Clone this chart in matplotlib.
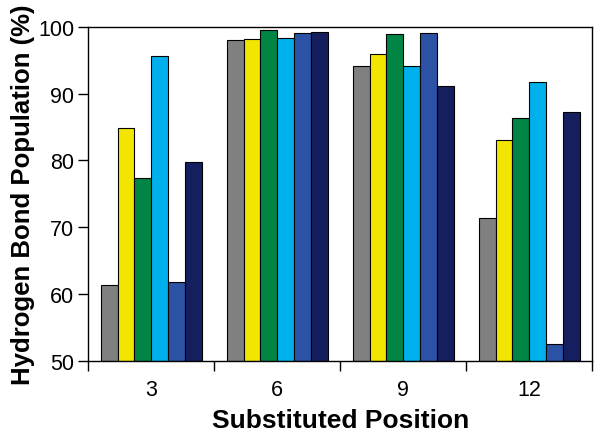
import matplotlib
matplotlib.use("Agg")
import matplotlib.pyplot as plt
import numpy as np

categories = ["3", "6", "9", "12"]
series_gray = [61.3, 98.1, 94.1, 71.4]
series_yellow = [84.8, 98.2, 95.9, 83.1]
series_green = [77.4, 99.5, 98.9, 86.4]
series_cyan = [95.7, 98.4, 94.2, 91.7]
series_blue = [61.8, 99.1, 99.1, 52.6]
series_navy = [79.7, 99.3, 91.1, 87.2]
yticks = [50, 60, 70, 80, 90, 100]

series = [series_gray, series_yellow, series_green, series_cyan, series_blue, series_navy]
colors = ["#808080", "#F2E600", "#008544", "#00B0EC", "#2C52A6", "#151F5F"]

plt.rcParams['font.family'] = ['Liberation Sans', 'DejaVu Sans']

fig = plt.figure(figsize=(6.0, 4.35), dpi=100)
ax = fig.add_axes([0.147, 0.168, 0.840, 0.768])

x = np.arange(len(categories))
n = len(series)
w = 0.8 / n
for i, (vals, c) in enumerate(zip(series, colors)):
    ax.bar(x - 0.4 + w * (i + 0.5), np.array(vals) - 50, width=w, bottom=50,
           color=c, edgecolor="black", linewidth=0.8)

ax.set_xlim(-0.5, len(categories) - 0.5)
ax.set_ylim(50, 100)
ax.set_yticks(yticks)
ax.set_yticklabels([str(v) for v in yticks], fontsize=15.5)
ax.set_xticks(np.arange(len(categories) + 1) - 0.5)
ax.set_xticklabels([])
ax.set_xticks(x, minor=True)
ax.set_xticklabels(categories, minor=True, fontsize=15.5)
ax.tick_params(axis='x', which='minor', length=0, pad=13)
ax.tick_params(axis='x', which='major', length=7, width=1, direction='out')
ax.tick_params(axis='y', length=7, width=1, direction='out', pad=3)

for s in ax.spines.values():
    s.set_linewidth(1.0)

ax.set_xlabel("Substituted Position", fontsize=19, fontweight='bold', labelpad=6)
ax.set_ylabel("Hydrogen Bond Population (%)", fontsize=18.5, fontweight='bold', labelpad=2)

fig.savefig("out.png", dpi=100)
